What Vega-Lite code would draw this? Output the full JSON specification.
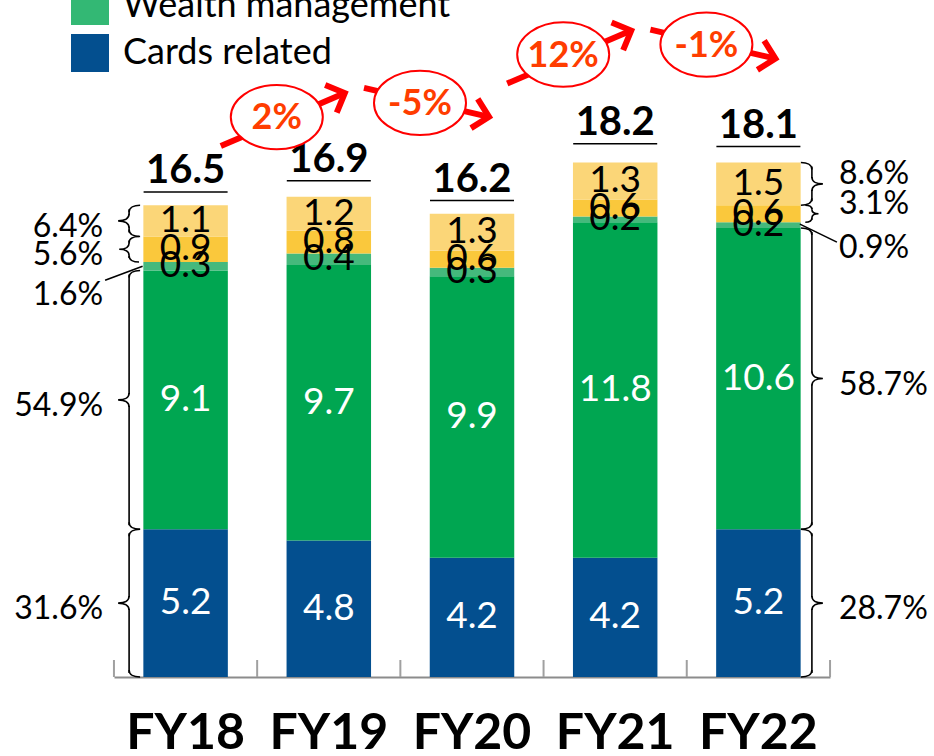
{
  "$schema": "https://vega.github.io/schema/vega-lite/v6.json",
  "width": 934,
  "height": 677,
  "autosize": {"type": "none"},
  "padding": {"left": 0, "top": 0, "right": 0, "bottom": 79},
  "background": "white",
  "config": {"view": {"stroke": null}, "font": "Lato"},
  "datasets": {
    "seg": [
      {"year": "FY18", "seg": "Cards related", "k": 1, "v": 5.2, "pct": 0.316},
      {"year": "FY18", "seg": "Wealth management", "k": 2, "v": 9.1, "pct": 0.549},
      {"year": "FY18", "seg": "Other 1", "k": 3, "v": 0.3, "pct": 0.016},
      {"year": "FY18", "seg": "Other 2", "k": 4, "v": 0.9, "pct": 0.056},
      {"year": "FY18", "seg": "Other 3", "k": 5, "v": 1.1, "pct": 0.064},
      {"year": "FY19", "seg": "Cards related", "k": 1, "v": 4.8},
      {"year": "FY19", "seg": "Wealth management", "k": 2, "v": 9.7},
      {"year": "FY19", "seg": "Other 1", "k": 3, "v": 0.4},
      {"year": "FY19", "seg": "Other 2", "k": 4, "v": 0.8},
      {"year": "FY19", "seg": "Other 3", "k": 5, "v": 1.2},
      {"year": "FY20", "seg": "Cards related", "k": 1, "v": 4.2},
      {"year": "FY20", "seg": "Wealth management", "k": 2, "v": 9.9},
      {"year": "FY20", "seg": "Other 1", "k": 3, "v": 0.3},
      {"year": "FY20", "seg": "Other 2", "k": 4, "v": 0.6},
      {"year": "FY20", "seg": "Other 3", "k": 5, "v": 1.3},
      {"year": "FY21", "seg": "Cards related", "k": 1, "v": 4.2},
      {"year": "FY21", "seg": "Wealth management", "k": 2, "v": 11.8},
      {"year": "FY21", "seg": "Other 1", "k": 3, "v": 0.2},
      {"year": "FY21", "seg": "Other 2", "k": 4, "v": 0.6},
      {"year": "FY21", "seg": "Other 3", "k": 5, "v": 1.3},
      {"year": "FY22", "seg": "Cards related", "k": 1, "v": 5.2, "pct": 0.287},
      {"year": "FY22", "seg": "Wealth management", "k": 2, "v": 10.6, "pct": 0.587},
      {"year": "FY22", "seg": "Other 1", "k": 3, "v": 0.2, "pct": 0.009},
      {"year": "FY22", "seg": "Other 2", "k": 4, "v": 0.6, "pct": 0.031},
      {"year": "FY22", "seg": "Other 3", "k": 5, "v": 1.5, "pct": 0.086}
    ],
    "tot": [
      {"year": "FY18", "total": 16.5},
      {"year": "FY19", "total": 16.9},
      {"year": "FY20", "total": 16.2},
      {"year": "FY21", "total": 18.2},
      {"year": "FY22", "total": 18.1}
    ],
    "gr": [
      {"year": "FY19", "label": "2%", "g": 0.02, "level": 19.7},
      {"year": "FY20", "label": "-5%", "g": -0.05, "level": 20.2},
      {"year": "FY21", "label": "12%", "g": 0.12, "level": 21.9},
      {"year": "FY22", "label": "-1%", "g": -0.01, "level": 22.25}
    ]
  },
  "data": {"name": "seg"},
  "transform": [
    {"stack": "v", "groupby": ["year"], "sort": [{"field": "k", "order": "ascending"}], "as": ["v0", "v1"]},
    {"calculate": "(datum.v0 + datum.v1) / 2", "as": "mid"}
  ],
  "encoding": {
    "x": {
      "field": "year",
      "type": "nominal",
      "scale": {"domain": ["FY18", "FY19", "FY20", "FY21", "FY22"], "range": [114, 830], "paddingInner": 0.41, "paddingOuter": 0.205},
      "axis": {
        "title": null, "labelAngle": 0, "labelFont": "Lato", "labelFontWeight": "bold", "labelFontSize": 50,
        "labelColor": "black", "labelPadding": 31, "domainColor": "#8c8c8c", "domainWidth": 2,
        "ticks": false, "grid": false
      }
    }
  },
  "resolve": {"scale": {"shape": "independent"}},
  "layer": [
    {
      "mark": {"type": "bar"},
      "encoding": {
        "y": {"field": "v1", "type": "quantitative", "scale": {"domain": [0, 23.82], "nice": false, "zero": true}, "axis": null},
        "y2": {"field": "v0"},
        "color": {
          "field": "seg", "type": "nominal",
          "scale": {"domain": ["Cards related", "Wealth management", "Other 1", "Other 2", "Other 3"], "range": ["#034f8f", "#00a651", "#45b97c", "#fac83c", "#fbd678"]},
          "legend": {
            "orient": "none", "legendX": 71, "legendY": -13, "title": null,
            "values": ["Wealth management", "Cards related"],
            "symbolType": "square", "symbolSize": 1444, "symbolStrokeWidth": 0,
            "labelFont": "Lato", "labelFontSize": 36, "labelColor": "black", "labelLimit": 600,
            "labelOffset": 14, "rowPadding": 9, "padding": 0, "direction": "vertical",
            "encode": {"symbols": {"update": {"opacity": {"signal": "datum.value === 'Wealth management' ? 0.8 : 1"}}}}
          }
        }
      }
    },
    {
      "data": {"name": "tot"},
      "mark": {"type": "rule", "color": "#a0a0a0", "strokeWidth": 2, "y2Offset": -17},
      "encoding": {
        "x": {"field": "year", "type": "nominal", "bandPosition": -0.348},
        "y": {"datum": 0, "type": "quantitative", "scale": {"domain": [0, 23.82], "nice": false}},
        "y2": {"datum": 0}
      }
    },
    {
      "data": {"name": "tot"},
      "transform": [{"filter": "datum.year === 'FY22'"}],
      "mark": {"type": "rule", "color": "#a0a0a0", "strokeWidth": 2, "y2Offset": -17},
      "encoding": {
        "x": {"field": "year", "type": "nominal", "bandPosition": 1.348},
        "y": {"datum": 0, "type": "quantitative", "scale": {"domain": [0, 23.82], "nice": false}},
        "y2": {"datum": 0}
      }
    },
    {
      "mark": {"type": "text", "fontSize": 37, "baseline": "middle", "align": "center"},
      "encoding": {
        "y": {"field": "mid", "type": "quantitative", "scale": {"domain": [0, 23.82], "nice": false}},
        "text": {"field": "v", "type": "quantitative", "format": ".1f"},
        "color": {"condition": {"test": "datum.k <= 2", "value": "white"}, "value": "black"}
      }
    },
    {
      "transform": [{"filter": "datum.year === 'FY18' && datum.k !== 3"}, {"fold": ["v1", "v0", "mid"], "as": ["part", "py"]}],
      "mark": {"type": "point", "filled": false, "color": "black", "strokeWidth": 1.6, "opacity": 1, "xOffset": -56.5},
      "encoding": {
        "y": {"field": "py", "type": "quantitative", "scale": {"domain": [0, 23.82], "nice": false}},
        "shape": {"field": "part", "type": "nominal", "scale": {"domain": ["v1", "v0", "mid"], "range": ["M 11,0 C 5,0 0,2 0,7", "M 11,0 C 5,0 0,-2 0,-7", "M 0,-7 C 0,-2 -5,0 -11,0 C -5,0 0,2 0,7"]}, "legend": null},
        "size": {"field": "v", "type": "quantitative", "scale": {"type": "pow", "exponent": 2, "domain": [0, 1], "range": [0, 4], "clamp": true}, "legend": null}
      }
    },
    {
      "transform": [{"filter": "datum.year === 'FY18' && datum.k !== 3"}],
      "mark": {"type": "rule", "color": "black", "strokeWidth": 1.6, "xOffset": -56.5, "yOffset": 4, "y2Offset": -6},
      "encoding": {
        "y": {"field": "v1", "type": "quantitative", "scale": {"domain": [0, 23.82], "nice": false}},
        "y2": {"field": "mid"}
      }
    },
    {
      "transform": [{"filter": "datum.year === 'FY18' && datum.k !== 3"}],
      "mark": {"type": "rule", "color": "black", "strokeWidth": 1.6, "xOffset": -56.5, "yOffset": 6, "y2Offset": -4},
      "encoding": {
        "y": {"field": "mid", "type": "quantitative", "scale": {"domain": [0, 23.82], "nice": false}},
        "y2": {"field": "v0"}
      }
    },
    {
      "transform": [{"filter": "datum.year === 'FY22' && datum.k !== 3"}, {"fold": ["v1", "v0", "mid"], "as": ["part", "py"]}],
      "mark": {"type": "point", "filled": false, "color": "black", "strokeWidth": 1.6, "opacity": 1, "xOffset": 53.5},
      "encoding": {
        "y": {"field": "py", "type": "quantitative", "scale": {"domain": [0, 23.82], "nice": false}},
        "shape": {"field": "part", "type": "nominal", "scale": {"domain": ["v1", "v0", "mid"], "range": ["M -11,0 C -5,0 0,2 0,7", "M -11,0 C -5,0 0,-2 0,-7", "M 0,-7 C 0,-2 5,0 11,0 C 5,0 0,2 0,7"]}, "legend": null},
        "size": {"field": "v", "type": "quantitative", "scale": {"type": "pow", "exponent": 2, "domain": [0, 1], "range": [0, 4], "clamp": true}, "legend": null}
      }
    },
    {
      "transform": [{"filter": "datum.year === 'FY22' && datum.k !== 3"}],
      "mark": {"type": "rule", "color": "black", "strokeWidth": 1.6, "xOffset": 53.5, "yOffset": 4, "y2Offset": -6},
      "encoding": {
        "y": {"field": "v1", "type": "quantitative", "scale": {"domain": [0, 23.82], "nice": false}},
        "y2": {"field": "mid"}
      }
    },
    {
      "transform": [{"filter": "datum.year === 'FY22' && datum.k !== 3"}],
      "mark": {"type": "rule", "color": "black", "strokeWidth": 1.6, "xOffset": 53.5, "yOffset": 6, "y2Offset": -4},
      "encoding": {
        "y": {"field": "mid", "type": "quantitative", "scale": {"domain": [0, 23.82], "nice": false}},
        "y2": {"field": "v0"}
      }
    },
    {
      "transform": [{"filter": "datum.year === 'FY18' && datum.k === 3"}],
      "mark": {"type": "rule", "color": "black", "strokeWidth": 1.6, "xOffset": -43, "x2Offset": -80.5, "yOffset": 0, "y2Offset": 14},
      "encoding": {
        "y": {"field": "mid", "type": "quantitative", "scale": {"domain": [0, 23.82], "nice": false}},
        "y2": {"field": "mid"},
        "x2": {"field": "year"}
      }
    },
    {
      "transform": [{"filter": "datum.year === 'FY22' && datum.k === 3"}],
      "mark": {"type": "rule", "color": "black", "strokeWidth": 1.6, "xOffset": 41.5, "x2Offset": 78.5, "yOffset": -1, "y2Offset": 17},
      "encoding": {
        "y": {"field": "mid", "type": "quantitative", "scale": {"domain": [0, 23.82], "nice": false}},
        "y2": {"field": "mid"},
        "x2": {"field": "year"}
      }
    },
    {
      "transform": [{"filter": "datum.year === 'FY18' && datum.k !== 3"}],
      "mark": {"type": "text", "fontSize": 32, "align": "right", "baseline": "middle", "xOffset": -82.5, "dy": 6, "color": "black"},
      "encoding": {
        "y": {"field": "mid", "type": "quantitative", "scale": {"domain": [0, 23.82], "nice": false}},
        "text": {"field": "pct", "type": "quantitative", "format": ".1%"}
      }
    },
    {
      "transform": [{"filter": "datum.year === 'FY18' && datum.k === 3"}],
      "mark": {"type": "text", "fontSize": 32, "align": "right", "baseline": "middle", "xOffset": -82.5, "dy": 29, "color": "black"},
      "encoding": {
        "y": {"field": "mid", "type": "quantitative", "scale": {"domain": [0, 23.82], "nice": false}},
        "text": {"field": "pct", "type": "quantitative", "format": ".1%"}
      }
    },
    {
      "transform": [{"filter": "datum.year === 'FY22' && datum.k <= 2"}],
      "mark": {"type": "text", "fontSize": 32, "align": "left", "baseline": "middle", "xOffset": 80.5, "dy": 6, "color": "black"},
      "encoding": {
        "y": {"field": "mid", "type": "quantitative", "scale": {"domain": [0, 23.82], "nice": false}},
        "text": {"field": "pct", "type": "quantitative", "format": ".1%"}
      }
    },
    {
      "transform": [{"filter": "datum.year === 'FY22' && datum.k >= 4"}],
      "mark": {"type": "text", "fontSize": 32, "align": "left", "baseline": "middle", "xOffset": 80.5, "dy": -10, "color": "black"},
      "encoding": {
        "y": {"field": "mid", "type": "quantitative", "scale": {"domain": [0, 23.82], "nice": false}},
        "text": {"field": "pct", "type": "quantitative", "format": ".1%"}
      }
    },
    {
      "transform": [{"filter": "datum.year === 'FY22' && datum.k === 3"}],
      "mark": {"type": "text", "fontSize": 32, "align": "left", "baseline": "middle", "xOffset": 80.5, "dy": 23, "color": "black"},
      "encoding": {
        "y": {"field": "mid", "type": "quantitative", "scale": {"domain": [0, 23.82], "nice": false}},
        "text": {"field": "pct", "type": "quantitative", "format": ".1%"}
      }
    },
    {
      "data": {"name": "tot"},
      "mark": {"type": "tick", "orient": "horizontal", "size": 84, "thickness": 1.5, "color": "black", "yOffset": -16, "opacity": 1},
      "encoding": {
        "y": {"field": "total", "type": "quantitative", "scale": {"domain": [0, 23.82], "nice": false}}
      }
    },
    {
      "data": {"name": "tot"},
      "mark": {"type": "text", "fontSize": 40, "fontWeight": "bold", "baseline": "alphabetic", "dy": -25, "color": "black"},
      "encoding": {
        "y": {"field": "total", "type": "quantitative", "scale": {"domain": [0, 23.82], "nice": false}},
        "text": {"field": "total", "type": "quantitative", "format": ".1f"}
      }
    },
    {
      "data": {"name": "gr"},
      "transform": [{"filter": "datum.g > 0"}],
      "mark": {"type": "rule", "color": "#ff0000", "strokeWidth": 6, "xOffset": -108, "x2Offset": 16, "yOffset": 29, "y2Offset": -24},
      "encoding": {
        "y": {"field": "level", "type": "quantitative", "scale": {"domain": [0, 23.82], "nice": false}},
        "y2": {"field": "level"},
        "x2": {"field": "year"}
      }
    },
    {
      "data": {"name": "gr"},
      "transform": [{"filter": "datum.g < 0"}],
      "mark": {"type": "rule", "color": "#ff0000", "strokeWidth": 6, "xOffset": -108, "x2Offset": 17, "yOffset": -15, "y2Offset": 14},
      "encoding": {
        "y": {"field": "level", "type": "quantitative", "scale": {"domain": [0, 23.82], "nice": false}},
        "y2": {"field": "level"},
        "x2": {"field": "year"}
      }
    },
    {
      "data": {"name": "gr"},
      "transform": [{"filter": "datum.g > 0"}],
      "mark": {"type": "point", "shape": "M -1,-1 L 0,0 L -1,1", "size": 900, "filled": false, "color": "#ff0000", "strokeWidth": 6, "opacity": 1, "angle": -22.7, "xOffset": 16, "yOffset": -24},
      "encoding": {
        "y": {"field": "level", "type": "quantitative", "scale": {"domain": [0, 23.82], "nice": false}}
      }
    },
    {
      "data": {"name": "gr"},
      "transform": [{"filter": "datum.g < 0"}],
      "mark": {"type": "point", "shape": "M -1,-1 L 0,0 L -1,1", "size": 900, "filled": false, "color": "#ff0000", "strokeWidth": 6, "opacity": 1, "angle": 13, "xOffset": 17, "yOffset": 14},
      "encoding": {
        "y": {"field": "level", "type": "quantitative", "scale": {"domain": [0, 23.82], "nice": false}}
      }
    },
    {
      "data": {"name": "gr"},
      "mark": {"type": "point", "shape": "M -1,0 C -1,-0.3864 -0.5523,-0.7 0,-0.7 C 0.5523,-0.7 1,-0.3864 1,0 C 1,0.3864 0.5523,0.7 0,0.7 C -0.5523,0.7 -1,0.3864 -1,0 Z", "size": 8464, "filled": true, "fill": "white", "stroke": "#ff0000", "strokeWidth": 2, "opacity": 1, "fillOpacity": 1, "xOffset": -52},
      "encoding": {
        "y": {"field": "level", "type": "quantitative", "scale": {"domain": [0, 23.82], "nice": false}}
      }
    },
    {
      "data": {"name": "gr"},
      "mark": {"type": "text", "fontSize": 36, "fontWeight": "bold", "color": "#ff3d00", "baseline": "middle", "align": "center", "xOffset": -52, "dy": 1},
      "encoding": {
        "y": {"field": "level", "type": "quantitative", "scale": {"domain": [0, 23.82], "nice": false}},
        "text": {"field": "label", "type": "nominal"}
      }
    }
  ]
}
